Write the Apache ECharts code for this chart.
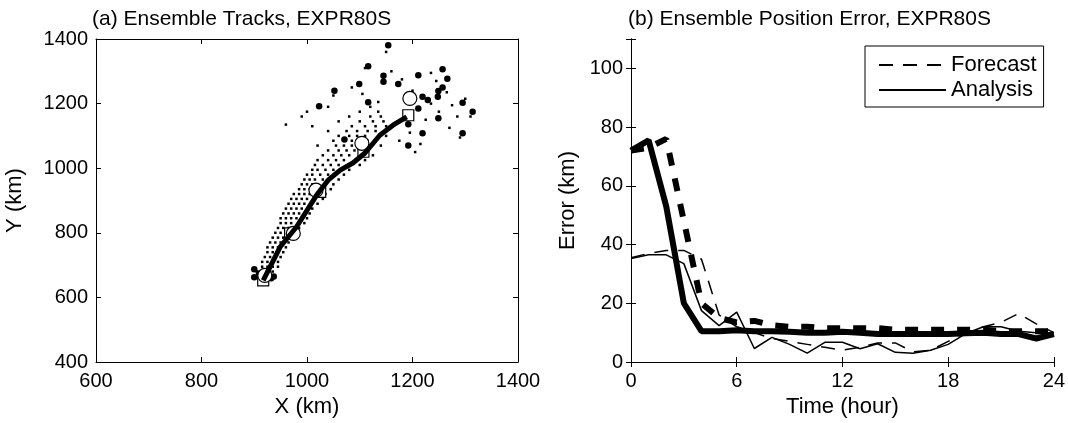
<!DOCTYPE html>
<html><head><meta charset="utf-8">
<script src="https://cdn.jsdelivr.net/npm/echarts@6/dist/echarts.min.js"></script>
<style>html,body{margin:0;padding:0;background:#fff}#c{width:1068px;height:423px}</style>
</head><body><div id="c"></div><script>
// ---------- Panel (a): ensemble tracks (km) ----------
const xTicks = [600, 800, 1000, 1200, 1400];
const yTicks = [400, 600, 800, 1000, 1200, 1400];
const trackLine = [[917,653],[949,756],[980,818],[1018,916],[1040,963],[1063,994],[1087,1016],[1110,1047],[1138,1102],[1163,1133],[1189,1159]];
const forecastSquares = [[917,653],[968,798],[1025,927],[1107,1051],[1192,1164]];
const analysisCircles = [[920,668],[974,798],[1017,932],[1104,1077],[1195,1216]];
const finalDots = [[1154,1381],[1116,1316],[1145,1286],[1145,1268],[1099,1261],[1173,1261],[1211,1288],[1257,1306],[1266,1277],[1052,1240],[1257,1250],[1249,1239],[1248,1221],[1219,1221],[1229,1211],[1023,1192],[1116,1204],[1295,1203],[1314,1175],[1211,1185],[1249,1155],[1192,1136],[1219,1108],[1295,1108],[1071,1089],[1192,1070],[900,687],[900,662],[909,674],[932,659],[937,665]];
const memberRows = [
 [665,[905,915,930]],[680,[905,915,925,935]],[695,[915,925,935,945]],[710,[915,925,935,945]],
 [725,[920,930,940,950]],[740,[925,935,945,955]],[755,[925,935,945,960]],[770,[930,940,950,965]],
 [785,[935,945,955,970]],[800,[940,950,960,975]],[815,[945,955,965,985]],[830,[950,960,970,995]],
 [845,[950,960,970,980,1000]],[860,[955,965,975,985,1005]],[875,[960,970,980,990,1010]],
 [890,[965,975,985,995,1020]],[905,[970,980,990,1000,1030]],[920,[975,985,995,1005,1035]],
 [935,[985,995,1005,1015,1045]],[950,[990,1000,1010,1020,1050]],[965,[995,1005,1015,1030,1060]],
 [980,[1000,1010,1025,1040,1070]],[995,[1010,1020,1035,1050,1080]],[1010,[1015,1030,1045,1060,1100]],
 [1025,[1020,1040,1055,1070,1110]],[1040,[1030,1050,1065,1080,1125]],[1055,[1040,1060,1075,1090]],
 [1070,[1020,1055,1070,1085,1100,1140]],[1085,[1050,1070,1085,1100,1115]],[1100,[1060,1080,1095,1110,1150]],
 [1115,[1040,1075,1095,1115,1130]],[1130,[1010,1085,1110,1130,1150]],[1145,[1060,1100,1125,1145]],
 [1160,[990,1080,1120,1140]],[1175,[1000,1100,1135]],[1190,[1040,1120]]
];
const scatteredMembers = [[1050,1225],[1085,1250],[1110,1310],[1150,1360],[1180,1275],[1235,1295],[1250,1175],[1275,1195],[1300,1215],[1290,1095],[1265,1235],[1235,1200],[1175,1085],[1205,1050],[1270,1125],[960,1135],[1225,1150],[1105,1230],[1135,1205],[1200,1240],[1160,1300],[1245,1270],[1285,1160],[1310,1160],[1195,1110],[1215,1075],[1190,1205]];

// ---------- Panel (b): position error (km) vs time (hour) ----------
const hours = [0,1,2,3,4,5,6,7,8,9,10,11,12,13,14,15,16,17,18,19,20,21,22,23,24];
const fcstMean = [72,73,76,48,20,15,13.5,14,12.5,12,12,11.5,11.5,11.5,11.5,11,11,11,11,11,11,10.5,10.5,10.5,10.5];
const anlMean  = [72,75.5,53,20,10.5,10.5,10.8,10.5,10.5,10.3,10,10,10.3,10,9.5,9.5,9.5,9.5,9.5,9.8,10,9.5,9.5,8,9.5];
const fcstThin = [35.5,37,38,38,35,16,12,10,8,7,6,5,4,5,6.5,6.5,3.5,4,7,10,12,13.5,16.5,13,10];
const anlThin  = [35.2,36.5,36.5,33.5,17.5,12.4,17,4.6,8.4,6,3,6.7,6.7,4.5,6.2,3.3,3,4,6,9.7,12,12,10.5,10,10];

const memberDots = [];
memberRows.forEach(r => r[1].forEach(x => memberDots.push([x, r[0]])));
scatteredMembers.forEach(p => memberDots.push(p));
const pair = (xs, ys) => xs.map((x, i) => [x, ys[i]]);

const FONT = 'Liberation Sans';
const txt = {color:'#000', fontFamily:FONT, fontSize:20};
const big = {color:'#000', fontFamily:FONT, fontSize:22};
const ttl = {color:'#000', fontFamily:FONT, fontSize:21, fontWeight:'normal'};
const line = {show:true, lineStyle:{color:'#000', width:1}};
const tick = {show:true, inside:true, length:5, lineStyle:{color:'#000', width:1}};
const plain = v => String(v);
function ax(extra){ return Object.assign({type:'value', axisLine:line, axisTick:tick, splitLine:{show:false}, axisLabel:Object.assign({margin:9, formatter:plain}, txt)}, extra); }
function box(extra){ return Object.assign({type:'value', axisLine:line, axisTick:tick, splitLine:{show:false}, axisLabel:{show:false}}, extra); }

const chart = echarts.init(document.getElementById('c'), null, {renderer:'canvas'});
chart.setOption({
  animation:false,
  backgroundColor:'#fff',
  title:[
    {text:'(a) Ensemble Tracks, EXPR80S', left:87, top:4, textStyle:ttl},
    {text:'(b) Ensemble Position Error, EXPR80S', left:623, top:4, textStyle:ttl}
  ],
  legend:{
    data:['Forecast','Analysis'], orient:'vertical', left:865, top:46,
    itemWidth:67, itemHeight:14, itemGap:3,
    padding:[8,7,6,13], borderColor:'#000', borderWidth:1, backgroundColor:'#fff',
    itemStyle:{opacity:0},
    textStyle:Object.assign({lineHeight:22}, big)
  },
  grid:[
    {left:96, right:550, top:39, bottom:61},
    {left:631, right:13, top:39, bottom:61}
  ],
  xAxis:[
    ax({gridIndex:0, min:600, max:1400, interval:200, name:'X (km)', nameLocation:'middle', nameGap:32, nameTextStyle:big}),
    box({gridIndex:0, position:'top', min:600, max:1400, interval:200}),
    ax({gridIndex:1, min:0, max:24, interval:6, name:'Time (hour)', nameLocation:'middle', nameGap:32, nameTextStyle:big}),
    box({gridIndex:1, position:'top', min:0, max:24, interval:6})
  ],
  yAxis:[
    ax({gridIndex:0, min:400, max:1400, interval:200, name:'Y (km)', nameLocation:'middle', nameGap:70, nameTextStyle:big, axisLabel:Object.assign({margin:8, formatter:plain}, txt)}),
    box({gridIndex:0, position:'right', min:400, max:1400, interval:200}),
    ax({gridIndex:1, min:0, max:110, interval:20, name:'Error (km)', nameLocation:'middle', nameGap:52, nameTextStyle:big,
        axisLabel:Object.assign({margin:8, formatter:v => v > 100 ? '' : String(v)}, txt)}),
    box({gridIndex:1, position:'right', min:0, max:110, interval:20})
  ],
  series:[
    {name:'members', type:'scatter', xAxisIndex:0, yAxisIndex:0, data:memberDots, symbol:'rect', symbolSize:2.5, itemStyle:{color:'#000', opacity:1}, silent:true},
    {name:'final', type:'scatter', xAxisIndex:0, yAxisIndex:0, data:finalDots, symbol:'circle', symbolSize:6.5, itemStyle:{color:'#000', opacity:1}},
    {name:'track', type:'line', xAxisIndex:0, yAxisIndex:0, data:trackLine, symbol:'none', lineStyle:{color:'#000', width:5}},
    {name:'fsq', type:'scatter', xAxisIndex:0, yAxisIndex:0, data:forecastSquares, symbol:'rect', symbolSize:11, itemStyle:{color:'#fff', borderColor:'#000', borderWidth:1.2, opacity:1}},
    {name:'acir', type:'scatter', xAxisIndex:0, yAxisIndex:0, data:analysisCircles, symbol:'circle', symbolSize:14, itemStyle:{color:'#fff', borderColor:'#000', borderWidth:1.2, opacity:1}},

    {name:'Forecast', type:'line', xAxisIndex:2, yAxisIndex:2, data:pair(hours, fcstThin), symbol:'none', lineStyle:{color:'#000', width:1.5, type:[14,10]}, itemStyle:{color:'#000'}},
    {name:'Analysis', type:'line', xAxisIndex:2, yAxisIndex:2, data:pair(hours, anlThin), symbol:'none', lineStyle:{color:'#000', width:1.5}, itemStyle:{color:'#000'}},
    {name:'Forecast mean', type:'line', xAxisIndex:2, yAxisIndex:2, data:pair(hours, fcstMean), symbol:'none', lineStyle:{color:'#000', width:6, type:[13,13], cap:'butt'}},
    {name:'Analysis mean', type:'line', xAxisIndex:2, yAxisIndex:2, data:pair(hours, anlMean), symbol:'none', lineStyle:{color:'#000', width:6}}
  ]
});
</script></body></html>
